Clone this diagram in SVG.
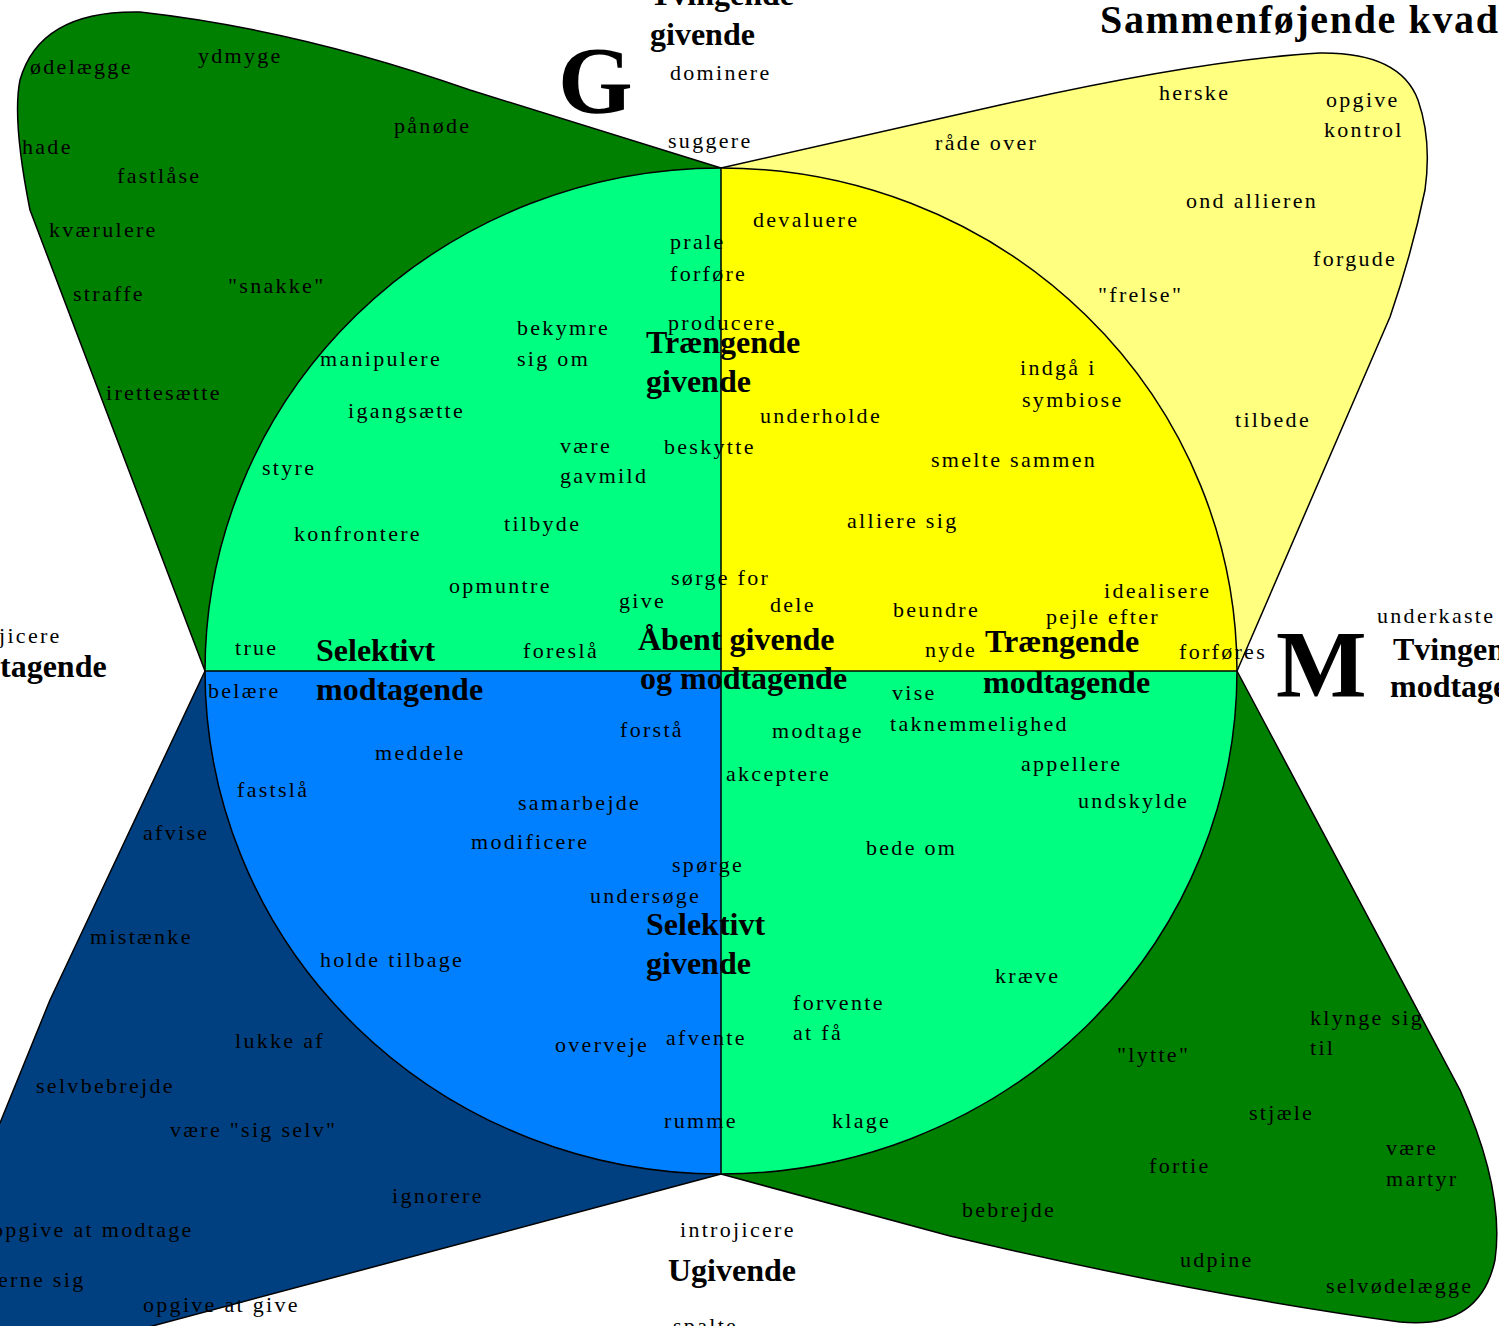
<svg xmlns="http://www.w3.org/2000/svg" width="1499" height="1326" viewBox="0 0 1499 1326">
<style>
.pet{stroke:#000;stroke-width:1.5;stroke-linejoin:round}
.q{stroke:none}
.ln{stroke:#000;stroke-width:1.5;fill:none}
text{font-family:"Liberation Serif","Times New Roman",serif;fill:#000}
.t{font-size:22px;letter-spacing:2.3px}
.b{font-size:32px;font-weight:bold}
.h{font-size:40px;font-weight:bold}
.x{font-size:96px;font-weight:bold}
</style>
<rect width="1499" height="1326" fill="#fff"/>
<g id="petals">
<path id="petal-tl" class="pet" fill="#008000" d="M721,168 L470,90 Q300,30 140,12 Q40,10 20,80 Q12,120 30,210 L205,671 Z"/>
<path id="petal-tr" class="pet" fill="#FFFF80" d="M721,168 L1000,105 Q1200,60 1320,53 Q1400,52 1418,100 Q1432,140 1425,190 Q1412,253 1390,317 L1237,671 Z"/>
<path id="petal-br" class="pet" fill="#008000" d="M721,1174 L950,1236 Q1200,1295 1400,1322 Q1480,1330 1495,1260 Q1505,1190 1460,1090 L1237,671 Z"/>
<path id="petal-bl" class="pet" fill="#004080" d="M721,1174 L100,1340 L-20,1345 L-20,1160 L0,1123 L50,1000 L205,671 Z"/>
</g>
<g id="circle">
<path class="q" fill="#00FF80" d="M721,671 L205,671 A516 503 0 0 1 721,168 Z"/>
<path class="q" fill="#FFFF00" d="M721,671 L721,168 A516 503 0 0 1 1237,671 Z"/>
<path class="q" fill="#00FF80" d="M721,671 L1237,671 A516 503 0 0 1 721,1174 Z"/>
<path class="q" fill="#0080FF" d="M721,671 L721,1174 A516 503 0 0 1 205,671 Z"/>
<ellipse class="ln" cx="721" cy="671" rx="516" ry="503"/>
</g>
<g id="connectors">
<line class="ln" x1="721" y1="168" x2="721" y2="1174"/>
<line class="ln" x1="205" y1="671" x2="1237" y2="671"/>
</g>
<g id="labels-outer">
<text class="b" x="650" y="5">Tvingende</text>
<text class="b" x="650" y="45">givende</text>
<text class="x" x="558" y="113">G</text>
<text class="t" x="670" y="80">dominere</text>
<text class="t" x="668" y="148">suggere</text>
<text class="h" x="1100" y="33" textLength="398" lengthAdjust="spacing">Sammenføjende kvad</text>
<text class="t" x="1377" y="623">underkaste</text>
<text class="x" x="1276" y="697">M</text>
<text class="b" x="1393" y="660">Tvingende</text>
<text class="b" x="1390" y="697">modtagende</text>
<text class="t" x="-1" y="643">jicere</text>
<text class="b" x="0" y="677">tagende</text>
<text class="t" x="680" y="1237">introjicere</text>
<text class="b" x="668" y="1281">Ugivende</text>
<text class="t" x="673" y="1333">spalte</text>
</g>
<g id="labels-tl">
<text class="t" x="30" y="74">ødelægge</text>
<text class="t" x="198" y="63">ydmyge</text>
<text class="t" x="394" y="133">pånøde</text>
<text class="t" x="22" y="154">hade</text>
<text class="t" x="117" y="183">fastlåse</text>
<text class="t" x="49" y="237">kværulere</text>
<text class="t" x="73" y="301">straffe</text>
<text class="t" x="228" y="293">"snakke"</text>
<text class="t" x="106" y="400">irettesætte</text>
</g>
<g id="labels-tr">
<text class="t" x="1159" y="100">herske</text>
<text class="t" x="1326" y="107">opgive</text>
<text class="t" x="1324" y="137">kontrol</text>
<text class="t" x="935" y="150">råde over</text>
<text class="t" x="1186" y="208">ond allieren</text>
<text class="t" x="1313" y="266">forgude</text>
<text class="t" x="1098" y="302">"frelse"</text>
<text class="t" x="1235" y="427">tilbede</text>
</g>
<g id="labels-bl">
<text class="t" x="143" y="840">afvise</text>
<text class="t" x="90" y="944">mistænke</text>
<text class="t" x="235" y="1048">lukke af</text>
<text class="t" x="36" y="1093">selvbebrejde</text>
<text class="t" x="170" y="1137">være "sig selv"</text>
<text class="t" x="392" y="1203">ignorere</text>
<text class="t" x="-8" y="1237">opgive at modtage</text>
<text class="t" x="-2" y="1287">erne sig</text>
<text class="t" x="143" y="1312">opgive at give</text>
</g>
<g id="labels-br">
<text class="t" x="995" y="983">kræve</text>
<text class="t" x="1310" y="1025">klynge sig</text>
<text class="t" x="1310" y="1055">til</text>
<text class="t" x="1117" y="1062">"lytte"</text>
<text class="t" x="1249" y="1120">stjæle</text>
<text class="t" x="1386" y="1155">være</text>
<text class="t" x="1386" y="1186">martyr</text>
<text class="t" x="1149" y="1173">fortie</text>
<text class="t" x="962" y="1217">bebrejde</text>
<text class="t" x="1180" y="1267">udpine</text>
<text class="t" x="1326" y="1293">selvødelægge</text>
</g>
<g id="labels-circle-tl">
<text class="t" x="670" y="249">prale</text>
<text class="t" x="670" y="281">forføre</text>
<text class="t" x="668" y="330">producere</text>
<text class="b" x="646" y="353">Trængende</text>
<text class="b" x="646" y="392">givende</text>
<text class="t" x="517" y="335">bekymre</text>
<text class="t" x="517" y="366">sig om</text>
<text class="t" x="320" y="366">manipulere</text>
<text class="t" x="348" y="418">igangsætte</text>
<text class="t" x="560" y="453">være</text>
<text class="t" x="560" y="483">gavmild</text>
<text class="t" x="664" y="454">beskytte</text>
<text class="t" x="262" y="475">styre</text>
<text class="t" x="294" y="541">konfrontere</text>
<text class="t" x="504" y="531">tilbyde</text>
<text class="t" x="449" y="593">opmuntre</text>
<text class="t" x="671" y="585">sørge for</text>
<text class="t" x="619" y="608">give</text>
<text class="t" x="523" y="658">foreslå</text>
<text class="t" x="235" y="655">true</text>
<text class="b" x="316" y="661">Selektivt</text>
<text class="b" x="638" y="650">Åbent givende</text>
</g>
<g id="labels-circle-tr">
<text class="t" x="753" y="227">devaluere</text>
<text class="t" x="760" y="423">underholde</text>
<text class="t" x="1020" y="375">indgå i</text>
<text class="t" x="1022" y="407">symbiose</text>
<text class="t" x="931" y="467">smelte sammen</text>
<text class="t" x="847" y="528">alliere sig</text>
<text class="t" x="770" y="612">dele</text>
<text class="t" x="893" y="617">beundre</text>
<text class="t" x="1104" y="598">idealisere</text>
<text class="t" x="1046" y="624">pejle efter</text>
<text class="t" x="925" y="657">nyde</text>
<text class="b" x="985" y="652">Trængende</text>
<text class="t" x="1179" y="659">forføres</text>
</g>
<g id="labels-circle-bl">
<text class="t" x="208" y="698">belære</text>
<text class="b" x="316" y="700">modtagende</text>
<text class="b" x="640" y="689">og modtagende</text>
<text class="t" x="620" y="737">forstå</text>
<text class="t" x="375" y="760">meddele</text>
<text class="t" x="237" y="797">fastslå</text>
<text class="t" x="518" y="810">samarbejde</text>
<text class="t" x="471" y="849">modificere</text>
<text class="t" x="672" y="872">spørge</text>
<text class="t" x="590" y="903">undersøge</text>
<text class="b" x="646" y="935">Selektivt</text>
<text class="b" x="646" y="974">givende</text>
<text class="t" x="320" y="967">holde tilbage</text>
<text class="t" x="555" y="1052">overveje</text>
<text class="t" x="666" y="1045">afvente</text>
<text class="t" x="664" y="1128">rumme</text>
</g>
<g id="labels-circle-br">
<text class="b" x="983" y="693">modtagende</text>
<text class="t" x="892" y="700">vise</text>
<text class="t" x="890" y="731">taknemmelighed</text>
<text class="t" x="772" y="738">modtage</text>
<text class="t" x="726" y="781">akceptere</text>
<text class="t" x="1021" y="771">appellere</text>
<text class="t" x="1078" y="808">undskylde</text>
<text class="t" x="866" y="855">bede om</text>
<text class="t" x="793" y="1010">forvente</text>
<text class="t" x="793" y="1040">at få</text>
<text class="t" x="832" y="1128">klage</text>
</g>
</svg>
